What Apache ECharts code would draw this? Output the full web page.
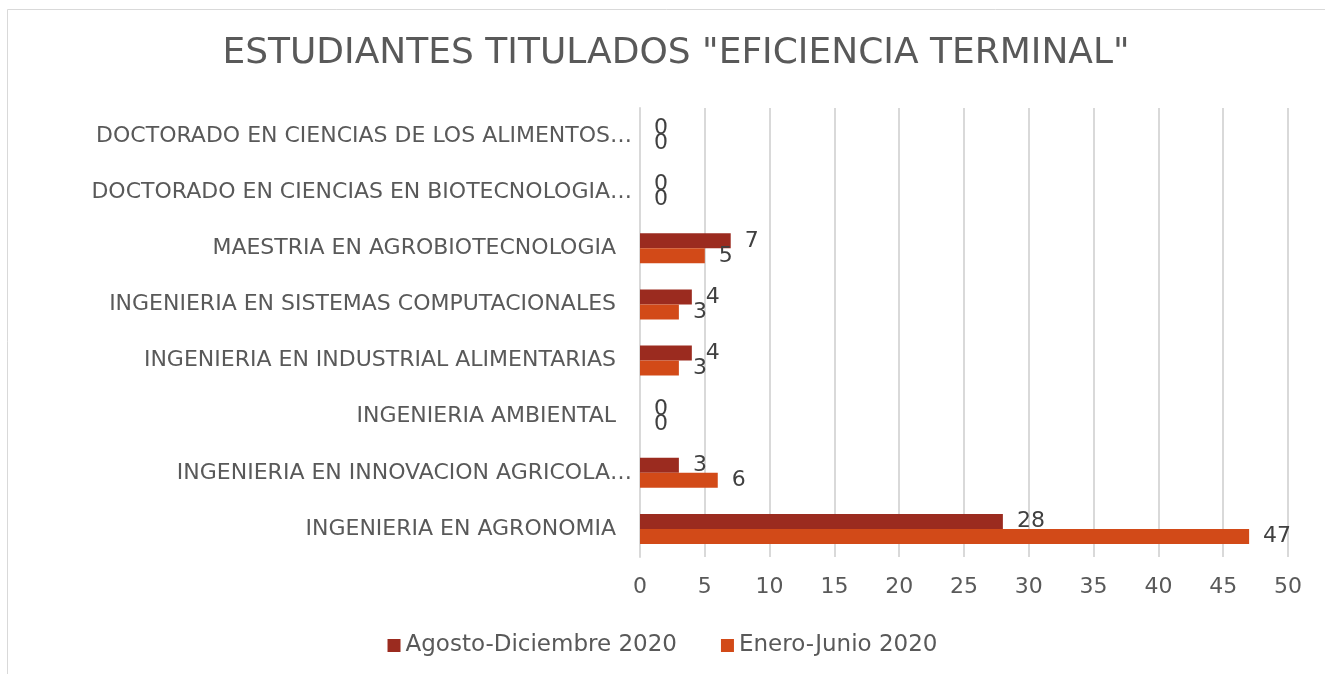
<!DOCTYPE html>
<html>
<head>
<meta charset="utf-8">
<script src="https://cdn.jsdelivr.net/npm/echarts@6/dist/echarts.min.js"></script>
<style>
  html, body { margin: 0; padding: 0; background: #fff; }
  #chart { width: 1325px; height: 674px; }
</style>
</head>
<body>
<div id="chart"></div>
<script>
// categories, bottom to top as ECharts draws a category y axis
const categories = [
  'INGENIERIA EN AGRONOMIA',
  'INGENIERIA EN INNOVACION AGRICOLA…',
  'INGENIERIA AMBIENTAL',
  'INGENIERIA EN INDUSTRIAL ALIMENTARIAS',
  'INGENIERIA EN SISTEMAS COMPUTACIONALES',
  'MAESTRIA EN AGROBIOTECNOLOGIA',
  'DOCTORADO EN CIENCIAS EN BIOTECNOLOGIA…',
  'DOCTORADO EN CIENCIAS DE LOS ALIMENTOS…'
]
const agostoDiciembre = [28, 3, 0, 4, 4, 7, 0, 0]
const eneroJunio = [47, 6, 0, 3, 3, 5, 0, 0]
const seriesNames = ['Agosto-Diciembre 2020', 'Enero-Junio 2020']
const xTicks = { min: 0, max: 50, interval: 5 }

const font = 'DejaVu Sans'
const chart = echarts.init(document.getElementById('chart'))

const labelStyle = {
  show: true,
  position: 'right',
  distance: 14,
  fontFamily: font,
  fontSize: 22,
  color: '#404040'
}

chart.setOption({
  backgroundColor: '#fff',
  animation: false,
  title: {
    text: 'ESTUDIANTES TITULADOS "EFICIENCIA TERMINAL"',
    left: 671,
    textAlign: 'center',
    top: 31,
    textStyle: { fontFamily: font, fontSize: 36, fontWeight: 'normal', color: '#595959' }
  },
  legend: {
    data: seriesNames,
    left: 'center',
    top: 629,
    icon: 'rect',
    itemWidth: 13,
    itemHeight: 13,
    itemGap: 44,
    textStyle: { fontFamily: font, fontSize: 23, color: '#595959' }
  },
  grid: { left: 640, right: 37, top: 108, bottom: 117 },
  xAxis: {
    type: 'value',
    min: xTicks.min,
    max: xTicks.max,
    interval: xTicks.interval,
    axisLine: { show: false },
    axisTick: { show: false },
    splitLine: { lineStyle: { color: '#d9d9d9', width: 2 } },
    axisLabel: { fontFamily: font, fontSize: 22, color: '#595959', margin: 19 }
  },
  yAxis: {
    type: 'category',
    data: categories,
    axisTick: { show: false },
    axisLine: { show: true, lineStyle: { color: '#d9d9d9', width: 2 } },
    axisLabel: {
      fontFamily: font,
      fontSize: 22,
      color: '#595959',
      margin: 8,
      formatter: (v) => (v.endsWith('…') ? '{a|' + v + '}' : '{b|' + v + '}'),
      rich: {
        a: { fontFamily: font, fontSize: 22, color: '#595959' },
        b: { fontFamily: font, fontSize: 22, color: '#595959', padding: [0, 16, 0, 0] }
      }
    }
  },
  graphic: [
    {
      type: 'polyline',
      shape: { points: [[7.5, 674], [7.5, 9.5], [1325, 9.5]] },
      style: { stroke: '#d9d9d9', lineWidth: 1, fill: null }
    }
  ],
  series: [
    {
      name: seriesNames[0],
      type: 'bar',
      data: agostoDiciembre,
      barWidth: 15,
      barGap: '0%',
      itemStyle: { color: '#9b2b1f' },
      label: labelStyle
    },
    {
      name: seriesNames[1],
      type: 'bar',
      data: eneroJunio,
      barWidth: 15,
      barGap: '0%',
      itemStyle: { color: '#d24a18' },
      label: labelStyle
    }
  ]
})
</script>
</body>
</html>
